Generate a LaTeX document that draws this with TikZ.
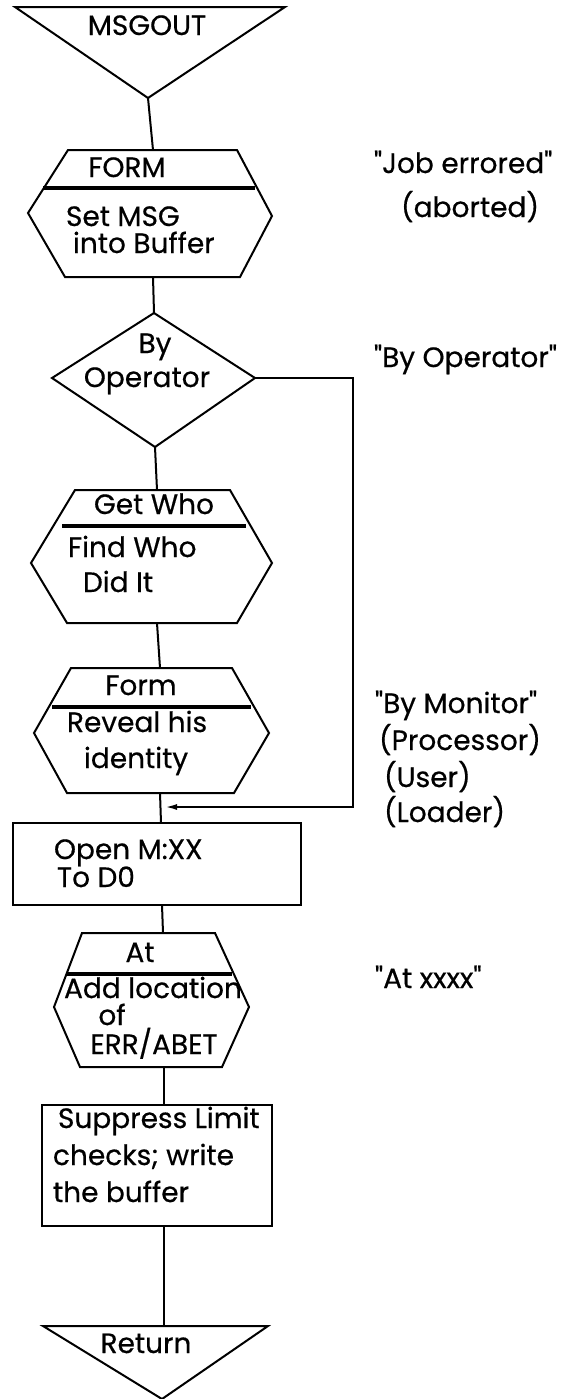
\documentclass[tikz,border=0pt]{standalone}
\usepackage{fontspec}
\setmainfont{Poppins}
% plain family: keeps the straight double quote
\newfontfamily\chartfont{Poppins}[FakeBold=0.5]
\usetikzlibrary{arrows.meta}

\begin{document}
\begin{tikzpicture}[x=0.5pt, y=-0.5pt, line width=1pt,
    txt/.style={inner sep=0pt, font=\chartfont\fontsize{14}{17}\selectfont, anchor=base west},
    ctxt/.style={txt, anchor=base},
    bar/.style={line width=1.6pt}]
  \useasboundingbox (0,0) rectangle (569,1399);

  % entry
  \draw (15,7) -- (285,7) -- (148,98) coordinate (msgout-tip) -- cycle;
  \node[ctxt] (msgout) at (147,35) {MSGOUT};

  % FORM: set message into buffer
  \draw (68,150) -- (237,150) -- (272,216) -- (240,277) -- (65,277) -- (28,213) -- cycle;
  \draw[bar] (43,188) -- (255,188);
  \coordinate (form-top) at (153,150);
  \coordinate (form-bot) at (153,277);
  \node[ctxt] (form) at (127,177) {FORM};
  \node[txt] (setmsg) at (65,226) {Set MSG};
  \node[txt] (intobuf) at (72,253) {into Buffer};

  % decision
  \draw (154,313) coordinate (byop-top) -- (255,378) coordinate (byop-right)
     -- (155,447) coordinate (byop-bot) -- (52,378) -- cycle;
  \node[ctxt] (by) at (155,353) {By};
  \node[ctxt] (operator) at (147,387) {Operator};

  % Get Who
  \draw (75,490) -- (230,490) -- (272,563) -- (237,623) -- (67,623) -- (31,563) -- cycle;
  \draw[bar] (62,526) -- (246,526);
  \coordinate (getwho-top) at (157,490);
  \coordinate (getwho-bot) at (157,623);
  \node[ctxt] (getwho) at (154,514) {Get Who};
  \node[txt] (findwho) at (67,557) {Find Who};
  \node[txt] (didit) at (82,592) {Did It};

  % Form: reveal identity
  \draw (71,668) -- (232,668) -- (269,733) -- (234,793) -- (67,793) -- (34,733) -- cycle;
  \draw[bar] (52,707) -- (251,707);
  \coordinate (reveal-top) at (160,668);
  \coordinate (reveal-bot) at (160,793);
  \node[ctxt] (formb) at (141,695) {Form};
  \node[txt] (revealhis) at (66,732) {Reveal his};
  \node[txt] (identity) at (83,768) {identity};

  % open M:XX
  \draw (13,823) rectangle (301,905);
  \coordinate (open-top) at (161,823);
  \coordinate (open-bot) at (162,905);
  \coordinate (join) at (161,807);
  \coordinate (loop-bot) at (353,807);
  \node[txt] (openmxx) at (53,859) {Open M:XX};
  \node[txt] (tod0) at (56,887) {To D0};

  % At: add location
  \draw (82,933) -- (215,933) -- (249,1007) -- (222,1067) -- (80,1067) -- (54,1007) -- cycle;
  \draw[bar] (66,974) -- (232,974);
  \coordinate (at-top) at (163,933);
  \coordinate (at-bot) at (164,1067);
  \node[ctxt] (at) at (140,962) {At};
  \node[ctxt] (addloc) at (153,998) {Add location};
  \node[ctxt] (of) at (112,1025) {of};
  \node[ctxt] (errabet) at (154,1054) {ERR/ABET};

  % write the buffer
  \draw (42,1105) rectangle (272,1226);
  \coordinate (supp-top) at (164,1105);
  \coordinate (supp-bot) at (164,1226);
  \node[txt] (suppress) at (57,1128) {Suppress Limit};
  \node[txt] (checks) at (52,1165) {checks; write};
  \node[txt] (thebuf) at (52,1202) {the buffer};

  % exit
  \draw (43,1326) -- (268,1326) -- (162,1399) -- cycle;
  \coordinate (ret-top) at (164,1326);
  \node[ctxt] (return) at (146,1353) {Return};

  % flow
  \draw (msgout-tip) -- (form-top);
  \draw (form-bot) -- (byop-top);
  \draw (byop-bot) -- (getwho-top);
  \draw (getwho-bot) -- (reveal-top);
  \draw (reveal-bot) -- (open-top);
  \draw (open-bot) -- (at-top);
  \draw (at-bot) -- (supp-top);
  \draw (supp-bot) -- (ret-top);
  \draw[-{Latex[length=6pt,width=3pt]}, shorten >=2pt] (byop-right) -| (loop-bot) -- (join);

  % messages
  \node[txt] (joberr) at (373,173) {"Job errored"};
  \node[txt] (aborted) at (400,217) {(aborted)};
  \node[txt] (byopmsg) at (373,367) {"By Operator"};
  \node[txt] (bymon) at (374,713) {"By Monitor"};
  \node[txt] (proc) at (378,750) {(Processor)};
  \node[txt] (user) at (383,787) {(User)};
  \node[txt] (loader) at (383,822) {(Loader)};
  \node[txt] (atxxxx) at (374,988) {"At xxxx"};
\end{tikzpicture}
\end{document}
